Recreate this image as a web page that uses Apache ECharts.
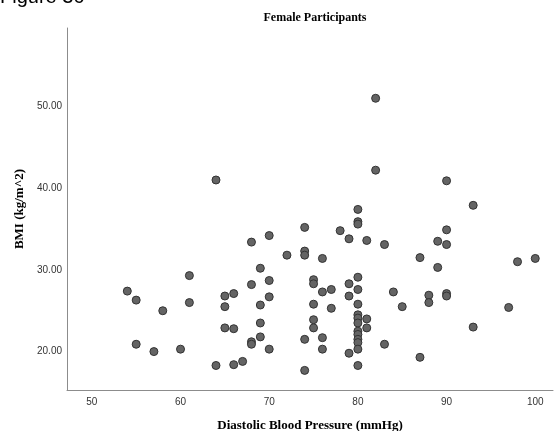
<!DOCTYPE html>
<html>
<head>
<meta charset="utf-8">
<script src="https://cdn.jsdelivr.net/npm/echarts@6/dist/echarts.min.js"></script>
<style>
  html, body { margin: 0; padding: 0; background: #ffffff; overflow: hidden; }
  #chart { width: 554px; height: 431px; }
</style>
</head>
<body>
<div id="chart"></div>
<script>
// Diastolic blood pressure (mmHg) for each participant
const dbp = [
  54, 55, 55, 57, 58, 60, 61, 61, 64, 64,
  65, 65, 65, 66, 66, 66, 67, 68, 68, 68,
  68, 69, 69, 69, 69, 70, 70, 70, 70, 72,
  74, 74, 74, 74, 74, 75, 75, 75, 75, 75,
  76, 76, 76, 76, 77, 77, 78, 79, 79, 79,
  79, 80, 80, 80, 80, 80, 80, 80, 80, 80,
  80, 80, 80, 80, 80, 80, 81, 81, 81, 82,
  82, 83, 83, 84, 85, 87, 87, 88, 88, 89,
  89, 90, 90, 90, 90, 90, 93, 93, 97, 98,
  100
];
// BMI (kg/m^2) for the same participants, in the same order
const bmi = [
  27.4, 26.3, 20.9, 20.0, 25.0, 20.3, 29.3, 26.0, 41.0, 18.3,
  26.8, 25.5, 22.9, 27.1, 22.8, 18.4, 18.8, 33.4, 28.2, 21.2,
  20.9, 30.2, 25.7, 23.5, 21.8, 34.2, 28.7, 26.7, 20.3, 31.8,
  35.2, 32.3, 31.8, 21.5, 17.7, 28.8, 28.3, 25.8, 23.9, 22.9,
  31.4, 27.3, 21.7, 20.3, 27.6, 25.3, 34.8, 33.8, 28.3, 26.8,
  19.8, 37.4, 35.9, 35.6, 29.1, 27.6, 25.8, 24.5, 24.1, 23.5,
  22.5, 22.1, 21.5, 21.1, 20.3, 18.3, 33.6, 24.0, 22.9, 51.0,
  42.2, 33.1, 20.9, 27.3, 25.5, 31.5, 19.3, 26.9, 26.0, 33.5,
  30.3, 40.9, 34.9, 33.1, 27.1, 26.8, 37.9, 23.0, 25.4, 31.0,
  31.4
];
// Tick values on each axis
const xTicks = [50, 60, 70, 80, 90, 100];
const yTicks = [20, 30, 40, 50];

const points = dbp.map((d, i) => [d, bmi[i]]);

const chart = echarts.init(document.getElementById('chart'), null, { renderer: 'canvas' });

const serif = '"Liberation Serif", "DejaVu Serif", serif';
const sans = '"Liberation Sans", Arial, sans-serif';

chart.setOption({
  animation: false,
  backgroundColor: '#ffffff',
  graphic: [
    {
      // figure caption, partly above the top edge
      type: 'text',
      left: 0,
      top: -13,
      style: { text: 'Figure 36', font: '20px ' + sans, fill: '#000000' }
    },
    {
      type: 'text',
      x: 315,
      y: 18,
      style: {
        text: 'Female Participants',
        font: 'bold 12px ' + serif,
        fill: '#000000',
        align: 'center',
        verticalAlign: 'middle'
      }
    }
  ],
  // fixed plot rectangle; axis names may sit close to the page edge
  grid: { left: 67, right: 1, top: 28, bottom: 41, containLabel: false, outerBoundsMode: 'none' },
  xAxis: {
    type: 'value',
    min: 47.2,
    max: 102,
    name: 'Diastolic Blood Pressure (mmHg)',
    nameLocation: 'middle',
    nameGap: 29,
    nameTextStyle: { fontFamily: serif, fontWeight: 'bold', fontSize: 13, color: '#000000' },
    axisLine: { show: true, lineStyle: { color: '#8c8c8c', width: 1 } },
    axisTick: { show: false },
    splitLine: { show: false },
    axisLabel: {
      customValues: xTicks,
      fontFamily: sans,
      fontSize: 10,
      color: '#333333',
      margin: 7,
      formatter: v => String(v)
    }
  },
  yAxis: {
    type: 'value',
    min: 15.3,
    max: 59.6,
    name: 'BMI (kg/m^2)',
    nameLocation: 'middle',
    nameGap: 37,
    nameTextStyle: { fontFamily: serif, fontWeight: 'bold', fontSize: 13, color: '#000000' },
    axisLine: { show: true, lineStyle: { color: '#8c8c8c', width: 1 } },
    axisTick: { show: false },
    splitLine: { show: false },
    axisLabel: {
      customValues: yTicks,
      fontFamily: sans,
      fontSize: 10,
      color: '#333333',
      margin: 5,
      formatter: v => v.toFixed(2)
    }
  },
  series: [
    {
      type: 'scatter',
      data: points,
      symbol: 'circle',
      symbolSize: 8,
      itemStyle: { color: '#646464', borderColor: '#333333', borderWidth: 1, opacity: 1 }
    }
  ]
});
</script>
</body>
</html>
